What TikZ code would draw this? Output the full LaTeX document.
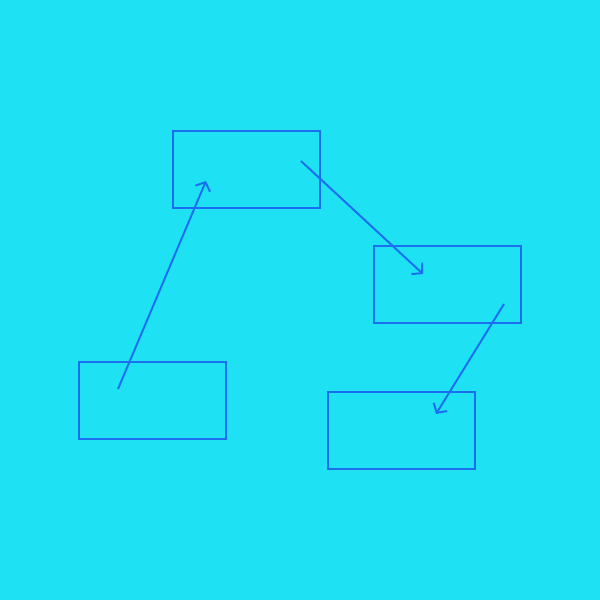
\documentclass[tikz,border=0pt]{standalone}
\usetikzlibrary{positioning,arrows.meta,calc}
\definecolor{bgcyan}{RGB}{30,225,243}
\definecolor{lineblue}{RGB}{28,110,240}
\tikzset{
boxnode/.style={
  draw=lineblue,
  line width=1.1pt,
  minimum width=2.94cm,
  minimum height=1.54cm,
  inner sep=0pt
  },
linkarrow/.style={
  draw=lineblue,
  line width=1.1pt,
  -{Straight Barb[length=4pt,width=9pt]}
  }
}

\begin{document}
\begin{tikzpicture}[x=0.02cm, y=-0.02cm]
  \fill[bgcyan] (0,0) rectangle (600,600);
  \useasboundingbox (0,0) rectangle (600,600);

  \node[boxnode] (top)    at (246.5,169.5) {};
  \node[boxnode] (right)  at (447.5,284.5) {};
  \node[boxnode] (left)   at (152.5,400.5) {};
  \node[boxnode] (bottom) at (401.5,430.5) {};

  \coordinate (leftout)    at ($(left)+(-34.5,-11.5)$);
  \coordinate (topin)      at ($(top)+(-40.5,11.5)$);
  \coordinate (topout)     at ($(top)+(54.5,-8.5)$);
  \coordinate (rightin)    at ($(right)+(-24.5,-10.5)$);
  \coordinate (rightout)   at ($(right)+(56.5,19.5)$);
  \coordinate (bottomin)   at ($(bottom)+(34.5,-16.5)$);

  \draw[linkarrow] (leftout) -- (topin);
  \draw[linkarrow] (topout) -- (rightin);
  \draw[linkarrow] (rightout) -- (bottomin);

\end{tikzpicture}
\end{document}
